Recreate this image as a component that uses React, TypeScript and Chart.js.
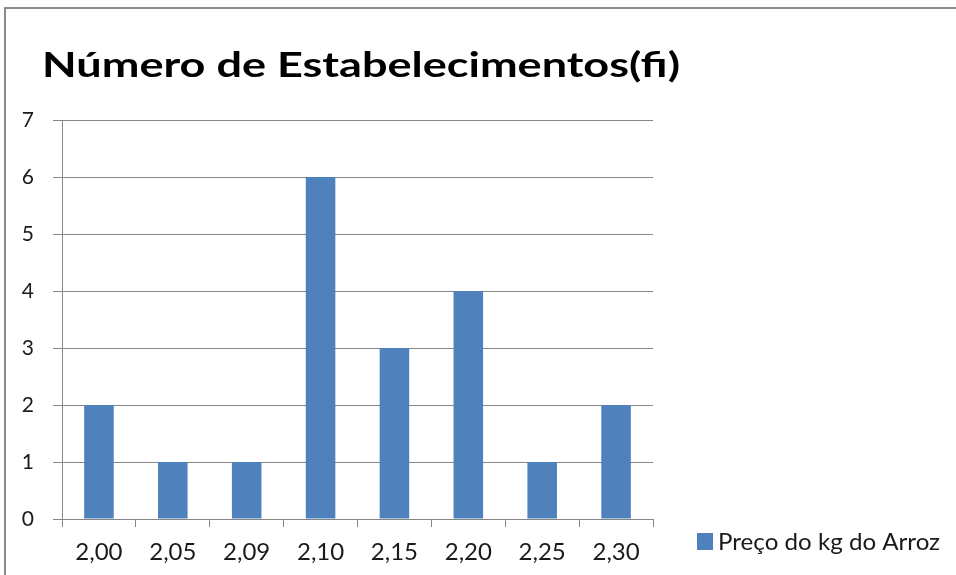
import React, { useEffect, useRef } from "react";
import { Chart, registerables } from "chart.js";

Chart.register(...registerables);

const categories = ["2,00", "2,05", "2,09", "2,10", "2,15", "2,20", "2,25", "2,30"];
const values = [2, 1, 1, 6, 3, 4, 1, 2];
const seriesName = "Preço do kg do Arroz";
const titleText = "Número de Estabelecimentos(fi)";
const yMin = 0;
const yMax = 7;
const yStep = 1;

const BAR = "#4F81BD";
const GRID = "#868686";
const FONT = "Lato, 'Open Sans', sans-serif";

const decor = {
  id: "decor",
  beforeDraw(chart: any) {
    const ctx = chart.ctx;
    ctx.save();
    ctx.fillStyle = "#ffffff";
    ctx.fillRect(0, 0, chart.width, chart.height);
    ctx.strokeStyle = "#8c8c8c";
    ctx.lineWidth = 2;
    ctx.strokeRect(5, 8, chart.width + 10, chart.height + 10);
    ctx.restore();
  },
  afterDraw(chart: any) {
    const ctx = chart.ctx;
    ctx.save();
    // title
    ctx.fillStyle = "#000000";
    ctx.font = `bold 35px ${FONT}`;
    ctx.textBaseline = "alphabetic";
    ctx.textAlign = "left";
    const targetW = 638;
    const w = ctx.measureText(titleText).width;
    ctx.translate(42, 77);
    ctx.scale(targetW / w, 1);
    ctx.fillText(titleText, 0, 0);
    ctx.restore();
    // legend
    ctx.save();
    ctx.fillStyle = BAR;
    ctx.fillRect(697, 533, 16, 17);
    ctx.fillStyle = "#1a1a1a";
    ctx.font = `24px ${FONT}`;
    ctx.textBaseline = "alphabetic";
    const lw = ctx.measureText(seriesName).width;
    ctx.translate(718, 550);
    ctx.scale(222 / lw, 1);
    ctx.fillText(seriesName, 0, 0);
    ctx.restore();
  },
};

export default function App() {
  const ref = useRef<HTMLCanvasElement>(null);
  useEffect(() => {
    if (!ref.current) return;
    const chart = new Chart(ref.current, {
      type: "bar",
      data: {
        labels: categories,
        datasets: [
          {
            label: seriesName,
            data: values,
            backgroundColor: BAR,
            borderWidth: 0,
            barPercentage: 0.5,
            categoryPercentage: 0.8,
          },
        ],
      },
      options: {
        responsive: false,
        animation: false,
        devicePixelRatio: 1,
        layout: { padding: { left: 0, top: 120, right: 303, bottom: 0 } },
        plugins: {
          legend: { display: false },
          title: { display: false },
          tooltip: { enabled: false },
        },
        scales: {
          x: {
            afterFit: (s: any) => {
              s.height = 56;
            },
            grid: {
              offset: true,
              drawOnChartArea: false,
              drawTicks: true,
              tickLength: 8,
              color: GRID,
            },
            border: { color: GRID, width: 1 },
            ticks: {
              color: "#1a1a1a",
              font: { family: FONT, size: 24 },
              padding: 11,
              maxRotation: 0,
            },
          },
          y: {
            min: yMin,
            max: yMax,
            afterFit: (s: any) => {
              s.width = 62;
            },
            grid: { color: GRID, tickLength: 9, drawTicks: true },
            border: { color: GRID, width: 1 },
            ticks: {
              stepSize: yStep,
              color: "#1a1a1a",
              font: { family: FONT, size: 21 },
              padding: 19,
            },
          },
        },
      },
      plugins: [decor],
    });
    return () => chart.destroy();
  }, []);
  return (
    <div style={{ position: "fixed", left: 0, top: 0, width: 956, height: 575 }}>
      <canvas ref={ref} width={956} height={575} style={{ display: "block" }} />
    </div>
  );
}
